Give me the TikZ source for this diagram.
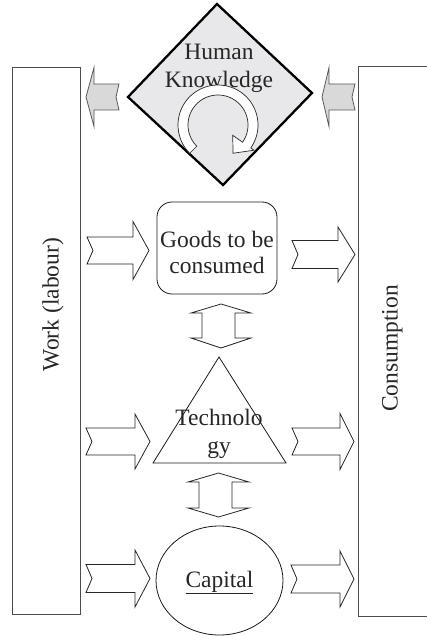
\documentclass[tikz,border=0pt]{standalone}
\usepackage{fontspec}
\setmainfont{Liberation Serif}
\usetikzlibrary{shapes.geometric,calc}
\definecolor{txtc}{HTML}{262626}
\definecolor{hkfill}{HTML}{E8E8EA}
\definecolor{gafill}{HTML}{D9D9D9}
\newcommand\rarr[7]{\draw[wa] (#1,#5-#6) -- (#3,#5-#6) -- (#3,#5-#7) -- (#4,#5) -- (#3,#5+#7) -- (#3,#5+#6) -- (#1,#5+#6) -- (#1+#2,#5) -- cycle;}
\newcommand\larr[7]{\draw[ga] (#1,#5-#6) -- (#3,#5-#6) -- (#3,#5-#7) -- (#4,#5) -- (#3,#5+#7) -- (#3,#5+#6) -- (#1,#5+#6) -- (#1-#2,#5) -- cycle;}
\newcommand\darr[8]{\draw[wa] ({(#1+#2)/2},#5) -- (#2,#6) -- (#4,#6) -- (#4,#7) -- (#2,#7) -- ({(#1+#2)/2},#8) -- (#1,#7) -- (#3,#7) -- (#3,#6) -- (#1,#6) -- cycle;}
\begin{document}
\begin{tikzpicture}[x=1pt,y=-1pt,
  txt/.style={font=\fontsize{23.5}{29}\selectfont, text=txtc, inner sep=0pt},
  outl/.style={draw=black!70, line width=0.9pt},
  wa/.style={draw=black!85, fill=white, line width=0.8pt, line join=miter},
  ga/.style={draw=black!65, fill=gafill, line width=0.8pt, line join=miter},
  shp/.style={draw=black!90, line width=0.8pt}]
\useasboundingbox (0,0) rectangle (426,636);
% side boxes
\draw[outl] (12,67) rectangle (80,614);
\draw[outl] (440,66) -- (358,66) -- (358,616) -- (440,616);
\node[txt, rotate=90, anchor=base] (work) at (58.5,304.5) {Work (labour)};
\node[txt, rotate=90, anchor=base] (cons) at (397.5,348.5) {Consumption};
% human knowledge diamond
\draw[draw=black, fill=hkfill, line width=2.3pt, line join=miter] (217,4) -- (312,93) -- (223,185) -- (128,97) -- cycle;
\node[txt, anchor=base] (hk1) at (219,60) {Human};
\node[txt, anchor=base] (hk2) at (219,88) {Knowledge};
% circular arrow
\coordinate (cc) at (218,125);
\draw[wa, line width=0.7pt]
  ($(cc)+(135:30)$) -- ($(cc)+(135:40)$)
  -- plot[domain=135:395, samples=60] ({218+40*cos(\x)},{125+40*sin(\x)})
  -- ($(cc)+(35:44)$) -- ($(cc)+(62:32)$) -- ($(cc)+(35:18)$) -- ($(cc)+(35:30)$)
  -- plot[domain=395:135, samples=60] ({218+30*cos(\x)},{125+30*sin(\x)})
  -- cycle;
% gray arrows
\larr{119}{3}{94}{86}{97}{13}{29.5}
\larr{355}{3}{329}{322}{97}{13}{29.5}
% goods
\draw[shp, rounded corners=15pt] (157,202) rectangle (277,294);
\node[txt, anchor=base] (g1) at (217,247) {Goods to be};
\node[txt, anchor=base] (g2) at (217,273) {consumed};
% technology
\draw[shp, line join=miter] (219,357) -- (286,463) -- (153,463) -- cycle;
\node[txt, anchor=base] (t1) at (219,425) {Technolo};
\node[txt, anchor=base] (t2) at (219,453) {gy};
% capital
\draw[shp] (219.5,580.5) ellipse [x radius=63.5, y radius=54.5];
\node[txt, anchor=base] (cap) at (219.5,587) {\underline{Capital}};
% white arrows
\rarr{87}{6}{133}{149}{250.5}{13.5}{29}
\rarr{292}{6}{338}{355}{254.5}{14}{27.5}
\rarr{86}{6}{135}{150}{441.5}{13.5}{27.5}
\rarr{292}{6}{340}{354}{441.5}{13.5}{28}
\rarr{86}{6}{135}{150}{578.5}{14}{28.5}
\rarr{291}{6}{340}{354}{579}{14}{28}
% double arrows
\darr{191}{251}{202}{235}{304}{313}{338}{348}
\darr{188}{249}{199}{232}{473}{482}{508}{517}
\end{tikzpicture}
\end{document}
